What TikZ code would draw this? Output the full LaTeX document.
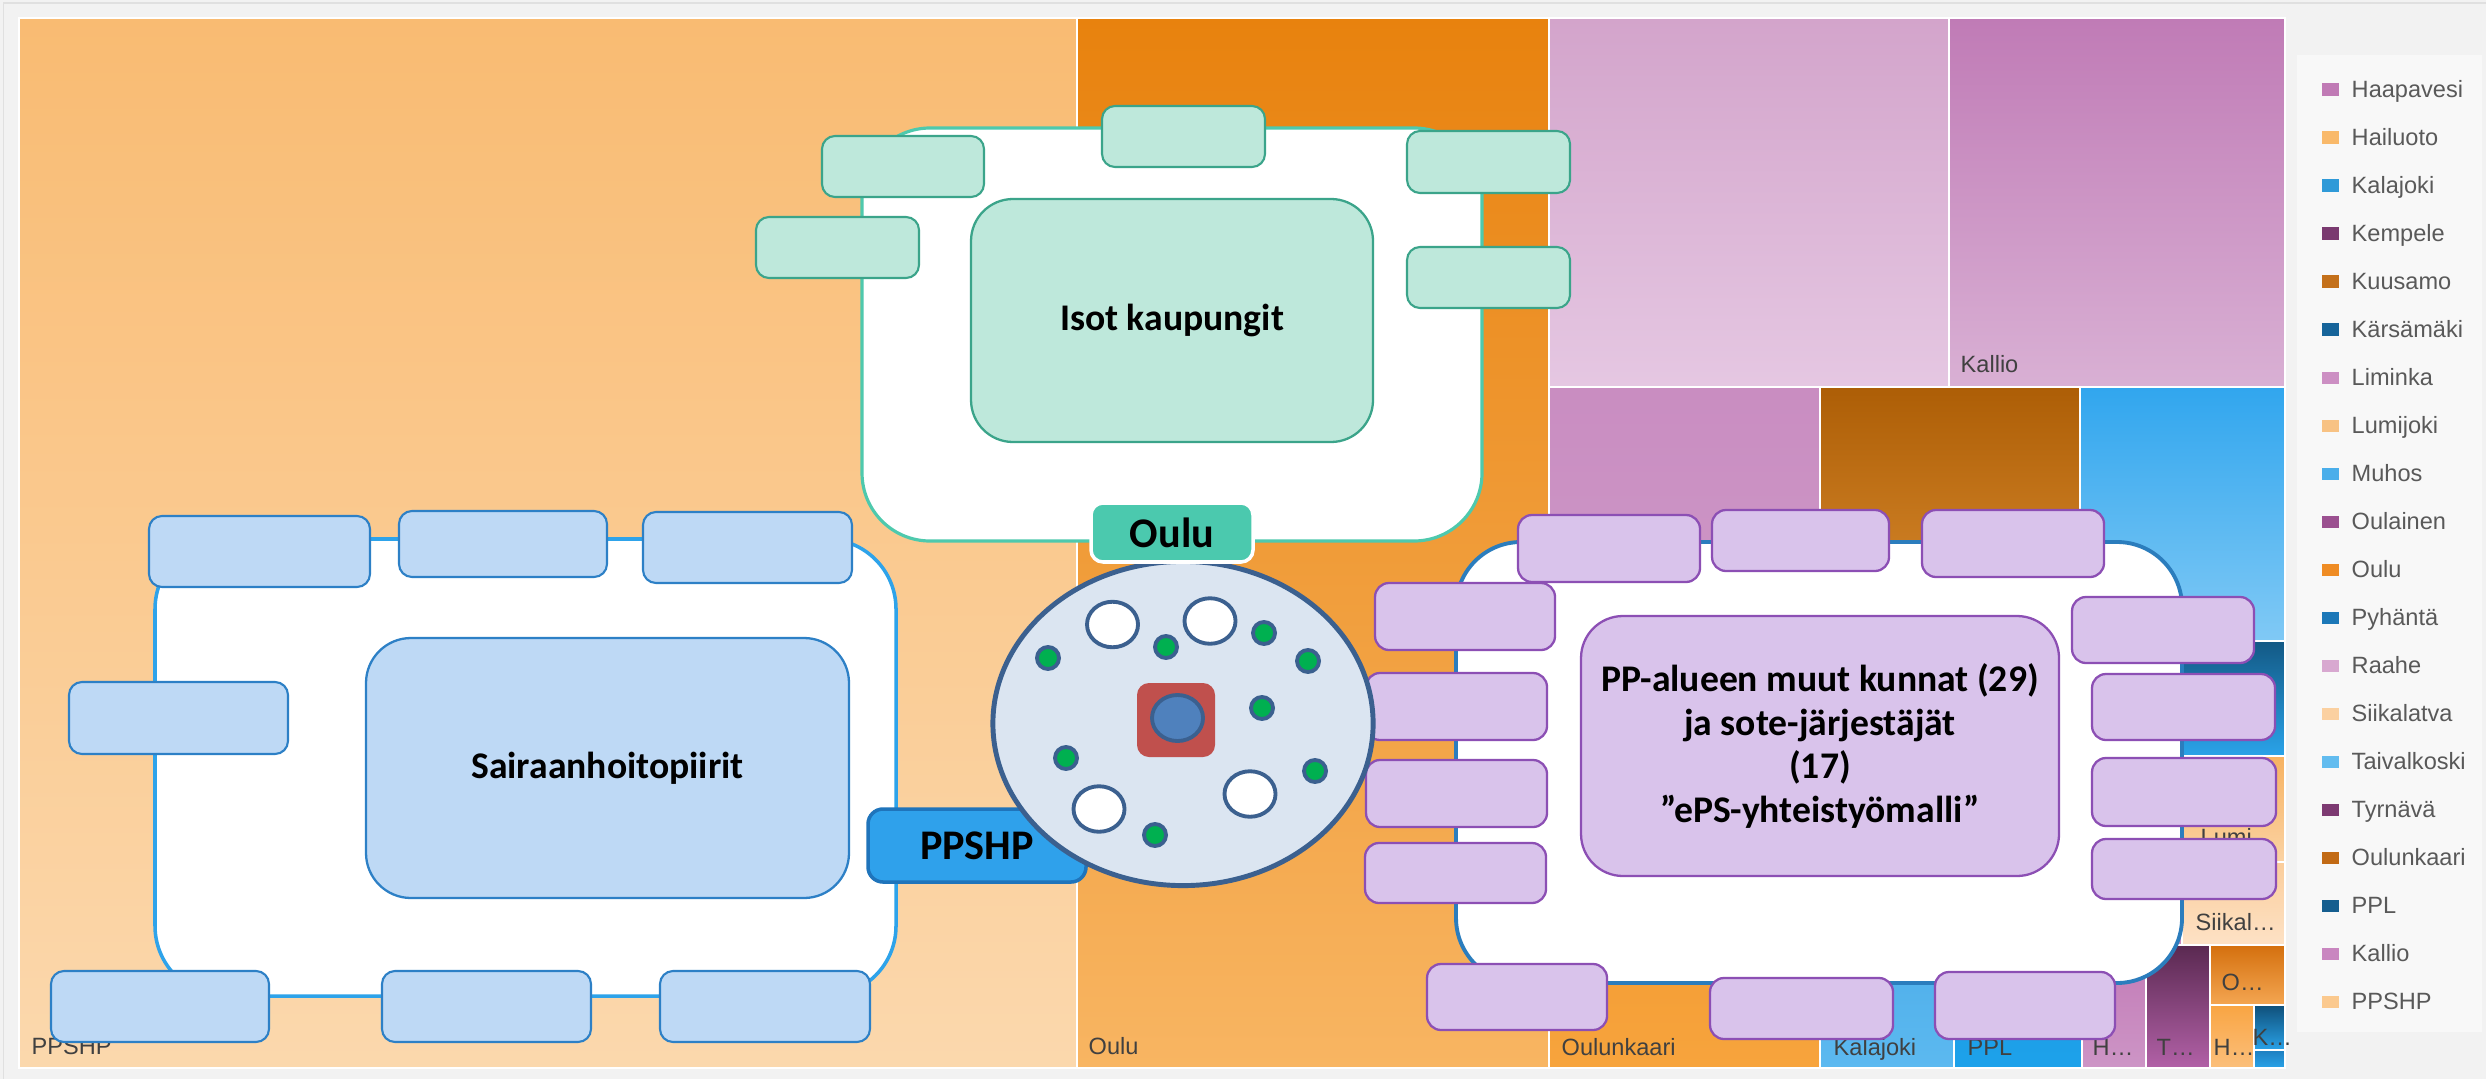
\documentclass[tikz,border=0pt]{standalone}
\usepackage{fontspec}
\setmainfont{Liberation Sans}
\newfontfamily\carl{Carlito}
\usetikzlibrary{shapes.geometric}
% treemap colours
\definecolor{bgc}{HTML}{F2F2F2}
\definecolor{ppshpT}{HTML}{F9BB72}\definecolor{ppshpB}{HTML}{FBD8AD}
\definecolor{ouluT}{HTML}{E8820E}\definecolor{ouluB}{HTML}{F8B562}
\definecolor{raaheT}{HTML}{D3A4CB}\definecolor{raaheB}{HTML}{E5C7E2}
\definecolor{kallioT}{HTML}{C07BB6}\definecolor{kallioB}{HTML}{D9B0D4}
\definecolor{limT}{HTML}{C98DC1}\definecolor{limB}{HTML}{CF9AC8}
\definecolor{kuuT}{HTML}{AD5E06}\definecolor{kuuB}{HTML}{E6983B}
\definecolor{muhT}{HTML}{31A6EE}\definecolor{muhB}{HTML}{80C9F5}
\definecolor{pyhT}{HTML}{135985}\definecolor{pyhB}{HTML}{2AA3E9}
\definecolor{lumT}{HTML}{F7B261}\definecolor{lumB}{HTML}{FBD3A4}
\definecolor{siiT}{HTML}{FBCD9B}\definecolor{siiB}{HTML}{FDE2C6}
\definecolor{hidT}{HTML}{CF94C6}\definecolor{hidB}{HTML}{C98BC0}
\definecolor{oukT}{HTML}{EE9025}\definecolor{oukB}{HTML}{F7A43D}
\definecolor{kalT}{HTML}{3399DC}\definecolor{kalB}{HTML}{5CB9F0}
\definecolor{pplT}{HTML}{1A96DE}\definecolor{pplB}{HTML}{1DA1EA}
\definecolor{haT}{HTML}{C27AB6}\definecolor{haB}{HTML}{CD95C6}
\definecolor{tyT}{HTML}{5A2951}\definecolor{tyB}{HTML}{B261A7}
\definecolor{oT}{HTML}{D4700E}\definecolor{oB}{HTML}{F4A652}
\definecolor{hbT}{HTML}{F9A543}\definecolor{hbB}{HTML}{FBBF7B}
\definecolor{kT}{HTML}{0F4F79}\definecolor{kB}{HTML}{29A2E8}
\definecolor{sT}{HTML}{1E7FC0}\definecolor{sB}{HTML}{2AA3E8}
% legend colours
\definecolor{Lhaa}{HTML}{C07AB5}\definecolor{Lhai}{HTML}{F9B96A}
\definecolor{Lkal}{HTML}{2F9AD8}\definecolor{Lkem}{HTML}{7A3A70}
\definecolor{Lkuu}{HTML}{C4701A}\definecolor{Lkar}{HTML}{16649A}
\definecolor{Llim}{HTML}{CC8FC3}\definecolor{Llum}{HTML}{F8C283}
\definecolor{Lmuh}{HTML}{4AAEEA}\definecolor{Loul}{HTML}{9B5090}
\definecolor{Lou}{HTML}{EF8C24}\definecolor{Lpyh}{HTML}{1C78B8}
\definecolor{Lraa}{HTML}{D8A8D0}\definecolor{Lsii}{HTML}{FBD0A0}
\definecolor{Ltai}{HTML}{62BCEF}\definecolor{Ltyr}{HTML}{7D3A72}
\definecolor{Loulk}{HTML}{C26A14}\definecolor{Lppl}{HTML}{155E8F}
\definecolor{Lkall}{HTML}{C986C0}\definecolor{Lppshp}{HTML}{FBC98E}
% overlay colours
\definecolor{tealc}{HTML}{4EC9AD}\definecolor{mintf}{HTML}{BEE8DB}\definecolor{mintd}{HTML}{3BA48A}
\definecolor{oulul}{HTML}{4BC9AE}
\definecolor{shpc}{HTML}{2EA3EA}\definecolor{lbluef}{HTML}{BED9F5}\definecolor{lblued}{HTML}{2D80C6}
\definecolor{ppshpf}{HTML}{2FA1EB}\definecolor{ppshpd}{HTML}{1F74BB}
\definecolor{ppc}{HTML}{2B7DBD}\definecolor{lavf}{HTML}{D9C3EB}\definecolor{lavd}{HTML}{8C4FB4}
\definecolor{circf}{HTML}{DBE5F1}\definecolor{circd}{HTML}{3B608F}
\definecolor{redc}{HTML}{C0504D}\definecolor{bluec}{HTML}{4F81BD}\definecolor{greenc}{HTML}{00B050}
\definecolor{labc}{HTML}{404040}\definecolor{legt}{HTML}{595959}\definecolor{legbg}{HTML}{F8F8F8}
% helpers
\newcommand\tmb[6]{\fill[top color=#1,bottom color=#2] (#3,#4) rectangle (#5,#6);
  \draw[white,line width=0.6pt] (#3,#4) rectangle (#5,#6);}
\newcommand\bx[7]{\node[#1,inner sep=0pt,minimum width={((#5)-(#3))*0.01cm},
  minimum height={((#6)-(#4))*0.01cm}] (#2) at ({((#3)+(#5))/2},{((#4)+(#6))/2}) {#7};}
\newcommand\legitem[4]{% name, y, colour, text
  \node[legsq,fill=#3] (#1sq) at (2330.5,#2) {};
  \node[legtxt] (#1) at (2351,#2+8) {#4};}
\begin{document}
\begin{tikzpicture}[x=0.01cm,y=-0.01cm,
  tmlab/.style={font=\fontsize{6.7}{8}\selectfont,text=labc,anchor=base west,inner sep=0pt},
  legsq/.style={minimum width=0.17cm,minimum height=0.12cm,inner sep=0pt,draw=none},
  legtxt/.style={font=\fontsize{6.7}{8}\selectfont,text=legt,anchor=base west,inner sep=0pt},
  bigtxt/.style={font=\carl\bfseries\fontsize{10.7}{12.5}\selectfont,align=center},
  lbltxt/.style={font=\carl\bfseries\fontsize{12}{14}\selectfont},
  mintbox/.style={fill=mintf,draw=mintd,line width=0.6pt,rounded corners=0.13cm},
  bluebox/.style={fill=lbluef,draw=lblued,line width=0.6pt,rounded corners=0.13cm},
  lavbox/.style={fill=lavf,draw=lavd,line width=0.65pt,rounded corners=0.14cm},
  greendot/.style={circle,fill=greenc,draw=circd,line width=1.1pt,minimum size=0.22cm,inner sep=0pt},
  whiteov/.style={ellipse,fill=white,draw=circd,line width=1.1pt,minimum width=0.51cm,minimum height=0.455cm,inner sep=0pt}]
\useasboundingbox (0,0) rectangle (2486,1079);
\fill[bgc] (0,0) rectangle (2486,1079);
\draw[black!12,line width=0.4pt] (3.5,1079) -- (3.5,3) -- (2486,3);
% ---------- treemap ----------
\tmb{ppshpT}{ppshpB}{19}{18}{1077}{1068}
\tmb{ouluT}{ouluB}{1077}{18}{1549}{1068}
\tmb{raaheT}{raaheB}{1549}{18}{1949}{387}
\tmb{kallioT}{kallioB}{1949}{18}{2285}{387}
\tmb{limT}{limB}{1549}{387}{1820}{700}
\tmb{kuuT}{kuuB}{1820}{387}{2080}{700}
\tmb{muhT}{muhB}{2080}{387}{2285}{641}
\tmb{pyhT}{pyhB}{2182}{641}{2285}{756}
\tmb{lumT}{lumB}{2182}{756}{2285}{862}
\tmb{siiT}{siiB}{2182}{862}{2285}{945}
\tmb{hidT}{hidB}{2080}{641}{2182}{945}
\tmb{oukT}{oukB}{1549}{700}{1820}{1068}
\tmb{kalT}{kalB}{1820}{700}{1954}{1068}
\tmb{pplT}{pplB}{1954}{700}{2082}{1068}
\tmb{haT}{haB}{2082}{945}{2146}{1068}
\tmb{tyT}{tyB}{2146}{945}{2210}{1068}
\tmb{oT}{oB}{2210}{945}{2285}{1005}
\tmb{hbT}{hbB}{2210}{1005}{2254}{1068}
\tmb{kT}{kB}{2254}{1005}{2285}{1050}
\tmb{sT}{sB}{2254}{1050}{2285}{1068}
\node[tmlab] (tKallio) at (1960,372) {Kallio};
\node[tmlab] (tPPSHP) at (31,1054) {PPSHP};
\node[tmlab] (tOulu) at (1088,1054) {Oulu};
\node[tmlab] (tOulunk) at (1561,1055) {Oulunkaari};
\node[tmlab] (tKalaj) at (1833,1055) {Kalajoki};
\node[tmlab] (tPPL) at (1967,1055) {PPL};
\node[tmlab] (tHa) at (2092,1055) {H…};
\node[tmlab] (tT) at (2156,1055) {T…};
\node[tmlab] (tHb) at (2213,1055) {H…};
\node[tmlab] (tO) at (2221,990) {O…};
\node[tmlab] (tK) at (2252,1045) {K…};
\node[tmlab] (tSiik) at (2195,930) {Siikal…};
\node[tmlab] (tLumi) at (2200,845) {Lumi…};
% ---------- legend ----------
\fill[legbg] (2297,55) rectangle (2482,1032);
\legitem{l1}{89.5}{Lhaa}{Haapavesi}
\legitem{l2}{137.5}{Lhai}{Hailuoto}
\legitem{l3}{185.5}{Lkal}{Kalajoki}
\legitem{l4}{233.5}{Lkem}{Kempele}
\legitem{l5}{281.5}{Lkuu}{Kuusamo}
\legitem{l6}{329.5}{Lkar}{Kärsämäki}
\legitem{l7}{377.5}{Llim}{Liminka}
\legitem{l8}{425.5}{Llum}{Lumijoki}
\legitem{l9}{473.5}{Lmuh}{Muhos}
\legitem{l10}{521.5}{Loul}{Oulainen}
\legitem{l11}{569.5}{Lou}{Oulu}
\legitem{l12}{617.5}{Lpyh}{Pyhäntä}
\legitem{l13}{665.5}{Lraa}{Raahe}
\legitem{l14}{713.5}{Lsii}{Siikalatva}
\legitem{l15}{761.5}{Ltai}{Taivalkoski}
\legitem{l16}{809.5}{Ltyr}{Tyrnävä}
\legitem{l17}{857.5}{Loulk}{Oulunkaari}
\legitem{l18}{905.5}{Lppl}{PPL}
\legitem{l19}{953.5}{Lkall}{Kallio}
\legitem{l20}{1001.5}{Lppshp}{PPSHP}
% ---------- Isot kaupungit ----------
\bx{fill=white,draw=tealc,line width=0.9pt,rounded corners=0.68cm}{isotc}{862}{128}{1482}{541}{}
\bx{fill=mintf,draw=mintd,line width=0.65pt,rounded corners=0.42cm,bigtxt}{isot}{971}{199}{1373}{442}{Isot kaupungit}
\bx{mintbox}{i1}{822}{136}{984}{197}{}
\bx{mintbox}{i2}{756}{217}{919}{278}{}
\bx{mintbox}{i3}{1102}{106}{1265}{167}{}
\bx{mintbox}{i4}{1407}{131}{1570}{193}{}
\bx{mintbox}{i5}{1407}{247}{1570}{308}{}
% ---------- Sairaanhoitopiirit ----------
\bx{fill=white,draw=shpc,line width=1pt,rounded corners=0.7cm}{shpc}{155}{539}{896}{996}{}
\bx{fill=lbluef,draw=lblued,line width=0.65pt,rounded corners=0.45cm,bigtxt}{shp}{366}{638}{849}{898}{Sairaanhoitopiirit}
\bx{bluebox}{s1}{149}{516}{370}{587}{}
\bx{bluebox}{s2}{399}{511}{607}{577}{}
\bx{bluebox}{s3}{643}{512}{852}{583}{}
\bx{bluebox}{s4}{69}{682}{288}{754}{}
\bx{bluebox}{s5}{51}{971}{269}{1042}{}
\bx{bluebox}{s6}{382}{971}{591}{1042}{}
\bx{bluebox}{s7}{660}{971}{870}{1042}{}
\bx{fill=ppshpf,draw=ppshpd,line width=1pt,rounded corners=0.15cm,lbltxt}{ppshp}{868}{809}{1086}{882}{PPSHP}
% ---------- PP-alueen muut kunnat ----------
\bx{fill=white,draw=ppc,line width=1.1pt,rounded corners=0.65cm}{ppc}{1456}{542}{2182}{983}{}
\bx{fill=lavf,draw=lavd,line width=0.65pt,rounded corners=0.42cm,bigtxt}{pp}{1581}{616}{2059}{876}{PP-alueen muut kunnat (29)\\ja sote-järjestäjät\\(17)\\”ePS-yhteistyömalli”}
\bx{lavbox}{p1}{1518}{515}{1700}{582}{}
\bx{lavbox}{p2}{1712}{510}{1889}{571}{}
\bx{lavbox}{p3}{1922}{510}{2104}{577}{}
\bx{lavbox}{p4}{1375}{583}{1555}{650}{}
\bx{lavbox}{p5}{1366}{673}{1547}{740}{}
\bx{lavbox}{p6}{1366}{760}{1547}{827}{}
\bx{lavbox}{p7}{1365}{843}{1546}{903}{}
\bx{lavbox}{p8}{2072}{597}{2254}{663}{}
\bx{lavbox}{p9}{2092}{674}{2275}{740}{}
\bx{lavbox}{p10}{2092}{758}{2276}{826}{}
\bx{lavbox}{p11}{2092}{839}{2276}{899}{}
\bx{lavbox}{p12}{1427}{964}{1607}{1030}{}
\bx{lavbox}{p13}{1710}{978}{1893}{1039}{}
\bx{lavbox}{p14}{1935}{972}{2115}{1039}{}
% ---------- Oulu circle ----------
\node[ellipse,fill=circf,draw=circd,line width=1.4pt,minimum width=3.80cm,minimum height=3.24cm,inner sep=0pt] (circ) at (1183,723.5) {};
\bx{fill=redc,draw=none,rounded corners=0.12cm}{redsq}{1137}{683}{1215}{757}{}
\node[ellipse,fill=bluec,draw=circd,line width=1.1pt,minimum width=0.51cm,minimum height=0.46cm,inner sep=0pt] (core) at (1177.5,718) {};
\node[whiteov] (w1) at (1112.5,624.5) {};
\node[whiteov] (w2) at (1210,621) {};
\node[whiteov] (w3) at (1099,809) {};
\node[whiteov] (w4) at (1250,794) {};
\node[greendot] (g1) at (1048,658) {};
\node[greendot] (g2) at (1166,647) {};
\node[greendot] (g3) at (1264,633) {};
\node[greendot] (g4) at (1308,661) {};
\node[greendot] (g5) at (1262,708) {};
\node[greendot] (g6) at (1066,758) {};
\node[greendot] (g7) at (1315,771) {};
\node[greendot] (g8) at (1155,835) {};
\bx{fill=oulul,draw=white,line width=1pt,rounded corners=0.12cm,lbltxt}{oulu}{1091}{503}{1253}{562}{Oulu}
\end{tikzpicture}
\end{document}
